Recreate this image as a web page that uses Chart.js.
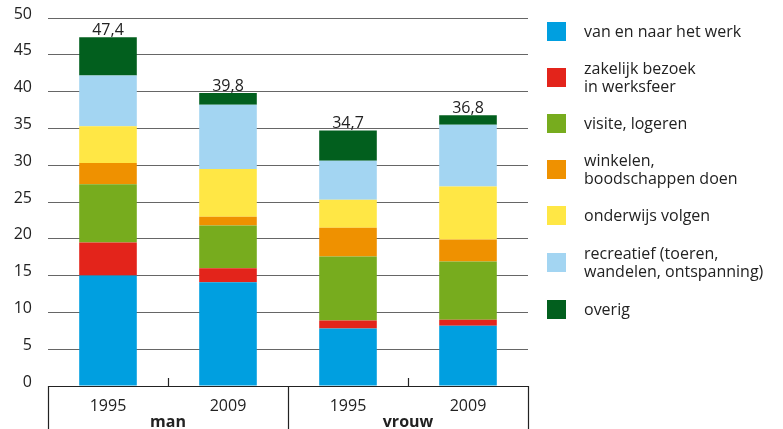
<!DOCTYPE html>
<html>
<head>
<meta charset="utf-8">
<script src="https://cdn.jsdelivr.net/npm/chart.js@4"></script>
<style>
  body { margin: 0; background: #fff; }
  #wrap { width: 783px; height: 429px; position: relative; }
</style>
</head>
<body>
<div id="wrap"><canvas id="MotiefChart"></canvas></div>
<script>
// categorieen (jaar) en groepen (geslacht)
const jaren = ['1995', '2009', '1995', '2009'];
const groepen = ['man', 'vrouw'];
const yTicks = [0, 5, 10, 15, 20, 25, 30, 35, 40, 45, 50];

const werk = [15.0, 14.1, 7.8, 8.2];
const zakelijk = [4.5, 1.9, 1.1, 0.8];
const visite = [7.9, 5.8, 8.7, 7.9];
const winkelen = [2.9, 1.2, 3.9, 3.0];
const onderwijs = [5.0, 6.5, 3.8, 7.2];
const recreatief = [6.9, 8.7, 5.3, 8.4];
const overig = [5.2, 1.6, 4.1, 1.3];
const totalen = ['47,4', '39,8', '34,7', '36,8'];

const fontFam = '"Open Sans", "Noto Sans", sans-serif';

const series = [
  { label: ['van en naar het werk'], data: werk, color: '#009fe0' },
  { label: ['zakelijk bezoek', 'in werksfeer'], data: zakelijk, color: '#e3241b' },
  { label: ['visite, logeren'], data: visite, color: '#77ac1e' },
  { label: ['winkelen,', 'boodschappen doen'], data: winkelen, color: '#ef9100' },
  { label: ['onderwijs volgen'], data: onderwijs, color: '#ffe745' },
  { label: ['recreatief (toeren,', 'wandelen, ontspanning)'], data: recreatief, color: '#a3d5f2' },
  { label: ['overig'], data: overig, color: '#025f1e' }
];

// totalen boven de staven, groepslabels en kaderlijnen onder de as
const extras = {
  id: 'extras',
  afterDatasetsDraw(chart) {
    const ctx = chart.ctx;
    const x = chart.scales.x;
    const y = chart.scales.y;
    const area = chart.chartArea;
    ctx.save();
    ctx.fillStyle = '#222';
    ctx.font = '16px ' + fontFam;
    ctx.textAlign = 'center';
    ctx.textBaseline = 'bottom';
    jaren.forEach((j, i) => {
      let som = 0;
      series.forEach(s => som += s.data[i]);
      ctx.fillText(totalen[i], x.getPixelForValue(i), y.getPixelForValue(som) + 1);
    });

    // kader onder de x-as
    const step = (area.right - area.left) / jaren.length;
    ctx.strokeStyle = '#222';
    ctx.lineWidth = 1.2;
    ctx.beginPath();
    ctx.moveTo(area.left, area.bottom + 0.5);
    ctx.lineTo(area.right, area.bottom + 0.5);
    [0, 2, 4].forEach(k => {
      const px = Math.round(area.left + k * step) + 0.5;
      ctx.moveTo(px, area.bottom);
      ctx.lineTo(px, chart.height);
    });
    [1, 3].forEach(k => {
      const px = Math.round(area.left + k * step) + 0.5;
      ctx.moveTo(px, area.bottom - 8);
      ctx.lineTo(px, area.bottom);
    });
    ctx.stroke();

    ctx.font = 'bold 16px ' + fontFam;
    ctx.textBaseline = 'alphabetic';
    groepen.forEach((g, k) => {
      ctx.fillText(g, area.left + (2 * k + 1) * step, area.bottom + 41);
    });

    // legenda
    ctx.font = '16px ' + fontFam;
    ctx.textAlign = 'left';
    ctx.textBaseline = 'middle';
    const regels = [32, 78, 124, 170, 216, 263, 310];
    series.forEach((s, i) => {
      const cy = regels[i];
      ctx.fillStyle = s.color;
      ctx.fillRect(547, cy - 10, 19, 19);
      ctx.fillStyle = '#222';
      const start = s.label.length > 1 ? cy - 9 : cy;
      s.label.forEach((t, r) => ctx.fillText(t, 584, start + r * 18));
    });
    ctx.restore();
  }
};

new Chart(document.getElementById('MotiefChart'), {
  type: 'bar',
  data: {
    labels: jaren,
    datasets: series.map(s => ({
      label: s.label.join(' '),
      data: s.data,
      backgroundColor: s.color,
      borderWidth: 0,
      categoryPercentage: 1,
      barPercentage: 0.48
    }))
  },
  options: {
    responsive: true,
    maintainAspectRatio: false,
    animation: false,
    layout: { padding: { top: 18, right: 255, left: 0, bottom: 0 } },
    plugins: { legend: { display: false }, tooltip: { enabled: false } },
    scales: {
      x: {
        stacked: true,
        grid: { display: false },
        border: { display: false },
        ticks: { color: '#222', font: { family: fontFam, size: 16 }, padding: 3 },
        afterFit(scale) { scale.height = 43; scale.paddingLeft = 0; scale.paddingRight = 0; }
      },
      y: {
        stacked: true,
        min: 0,
        max: 50,
        afterBuildTicks(scale) { scale.ticks = yTicks.map(v => ({ value: v })); },
        grid: { color: '#666', lineWidth: 1, drawTicks: false },
        border: { display: false },
        ticks: { color: '#222', font: { family: fontFam, size: 16 }, padding: 16, labelOffset: -4 },
        afterFit(scale) { scale.width = 48; scale.paddingTop = 0; scale.paddingBottom = 0; }
      }
    }
  },
  plugins: [extras]
});
</script>
</body>
</html>
